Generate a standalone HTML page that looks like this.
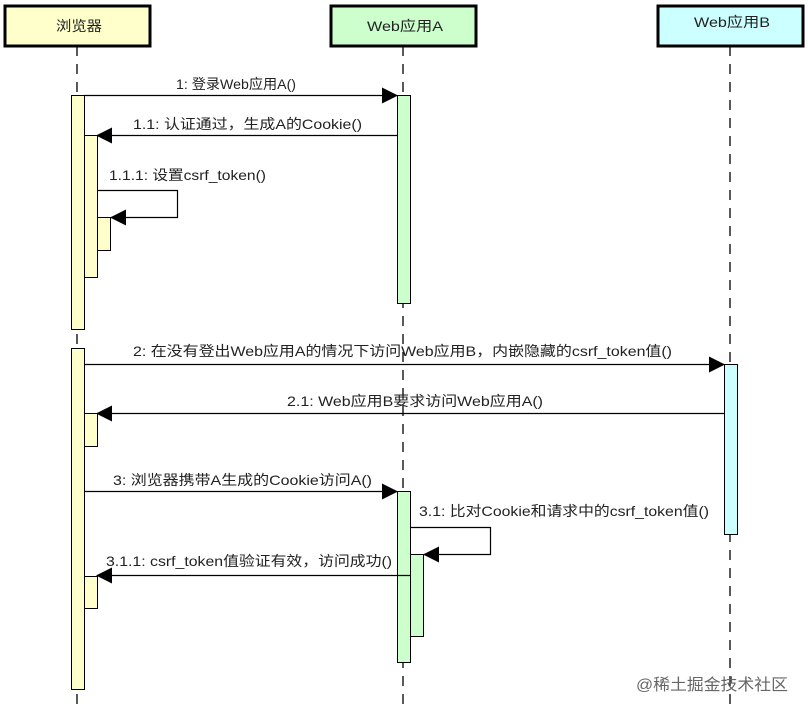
<!DOCTYPE html>
<html><head><meta charset="utf-8"><style>
html,body{margin:0;padding:0;background:#fff;}
svg{display:block}
text{font-family:"Liberation Sans","Noto Sans CJK SC",sans-serif;font-size:14px;fill:#222}
</style></head><body>
<svg width="808" height="712" viewBox="0 0 808 712" xmlns="http://www.w3.org/2000/svg">
<defs>
<marker id="a" markerWidth="16" markerHeight="16" refX="15" refY="8" orient="auto" markerUnits="userSpaceOnUse">
<path d="M0,0 L16,8 L0,16 z" fill="#000"/></marker>
</defs>
<g stroke="#000" stroke-width="1.3" stroke-dasharray="10,8">
<line x1="77" y1="46" x2="77" y2="712"/>
<line x1="403" y1="46" x2="403" y2="712"/>
<line x1="730" y1="46" x2="730" y2="712"/>
</g>
<rect x="5" y="6" width="145" height="40" fill="#ffffcc" stroke="#000" stroke-width="3"/>
<text x="56" y="31" textLength="46" lengthAdjust="spacingAndGlyphs">浏览器</text>
<rect x="331" y="6" width="145" height="40" fill="#ccffcc" stroke="#000" stroke-width="3"/>
<text x="367" y="31" textLength="76" lengthAdjust="spacingAndGlyphs">Web应用A</text>
<rect x="658" y="6" width="145" height="40" fill="#ccffff" stroke="#000" stroke-width="3"/>
<text x="694" y="27" textLength="76" lengthAdjust="spacingAndGlyphs">Web应用B</text>
<g stroke="#000" stroke-width="1">
<rect x="71.5" y="95.5" width="13" height="234" fill="#ffffcc"/>
<rect x="84.5" y="135.5" width="13" height="142" fill="#ffffcc"/>
<rect x="97.5" y="217.5" width="13" height="33" fill="#ffffcc"/>
<rect x="397.5" y="95.5" width="13" height="208" fill="#ccffcc"/>
<rect x="71.5" y="348.5" width="13" height="341" fill="#ffffcc"/>
<rect x="84.5" y="413.5" width="13" height="33" fill="#ffffcc"/>
<rect x="84.5" y="576.5" width="13" height="32" fill="#ffffcc"/>
<rect x="724.5" y="364.5" width="13" height="170" fill="#ccffff"/>
<rect x="397.5" y="491.5" width="13" height="171" fill="#ccffcc"/>
<rect x="410.5" y="554.5" width="13" height="82" fill="#ccffcc"/>
</g>
<g stroke="#000" stroke-width="1.2" fill="none" marker-end="url(#a)">
<line x1="84" y1="95.5" x2="397" y2="95.5"/>
<line x1="397" y1="135.5" x2="97" y2="135.5"/>
<polyline points="97,190.5 177.5,190.5 177.5,217.5 111,217.5"/>
<line x1="84" y1="364.5" x2="724" y2="364.5"/>
<line x1="724" y1="413.5" x2="97" y2="413.5"/>
<line x1="84" y1="491.5" x2="397" y2="491.5"/>
<polyline points="410,527.5 490.5,527.5 490.5,554.5 424,554.5"/>
<line x1="410" y1="575.5" x2="97" y2="575.5"/>
</g>
<text x="176" y="89" textLength="120" lengthAdjust="spacingAndGlyphs">1: 登录Web应用A()</text>
<text x="133" y="129" textLength="229" lengthAdjust="spacingAndGlyphs">1.1: 认证通过，生成A的Cookie()</text>
<text x="109" y="180" textLength="157" lengthAdjust="spacingAndGlyphs">1.1.1: 设置csrf_token()</text>
<text x="133" y="356" textLength="539" lengthAdjust="spacingAndGlyphs">2: 在没有登出Web应用A的情况下访问Web应用B，内嵌隐藏的csrf_token值()</text>
<text x="287" y="406" textLength="256" lengthAdjust="spacingAndGlyphs">2.1: Web应用B要求访问Web应用A()</text>
<text x="113" y="485" textLength="259" lengthAdjust="spacingAndGlyphs">3: 浏览器携带A生成的Cookie访问A()</text>
<text x="419" y="516" textLength="290" lengthAdjust="spacingAndGlyphs">3.1: 比对Cookie和请求中的csrf_token值()</text>
<text x="106" y="566" textLength="286" lengthAdjust="spacingAndGlyphs">3.1.1: csrf_token值验证有效，访问成功()</text>
<text x="636" y="690" textLength="152" lengthAdjust="spacingAndGlyphs" style="font-size:16px;fill:#666">@稀土掘金技术社区</text>
</svg>
</body></html>
